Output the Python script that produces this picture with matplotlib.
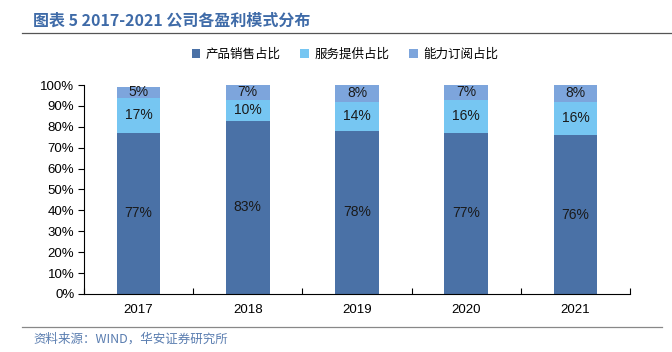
import matplotlib.pyplot as plt
import numpy as np

plt.rcParams['font.family'] = ['Liberation Sans', 'Noto Sans CJK SC', 'DejaVu Sans']

years = ['2017', '2018', '2019', '2020', '2021']
product = [77, 83, 78, 77, 76]
service = [17, 10, 14, 16, 16]
subscription = [5, 7, 8, 7, 8]
series_names = ['产品销售占比', '服务提供占比', '能力订阅占比']
colors = ['#4A71A6', '#76C6F2', '#7DA5DC']

fig = plt.figure(figsize=(6.72, 3.52), dpi=100)
ax = fig.add_axes([0.125, 0.165, 0.8125, 0.5935])

x = np.arange(len(years))
w = 0.4
bottom = np.zeros(len(years))
for vals, name, c in zip([product, service, subscription], series_names, colors):
    ax.bar(x, vals, w, bottom=bottom, color=c, label=name)
    for xi, b, v in zip(x, bottom, vals):
        ax.text(xi, b + v / 2, f'{v}%', ha='center', va='center', fontsize=10, color='#1a1a1a')
    bottom += np.array(vals)

ax.set_xlim(-0.5, len(years) - 0.5)
ax.set_ylim(0, 100)
ax.set_yticks(np.arange(0, 101, 10))
ax.set_yticklabels([f'{v}%' for v in range(0, 101, 10)], fontsize=9.5)
ax.set_xticks(x)
ax.set_xticklabels(years, fontsize=9.5)
ax.tick_params(axis='x', length=0, pad=7)
ax.tick_params(axis='y', length=4, width=0.8, pad=3)
ax.set_xticks(np.arange(-0.5, len(years)), minor=True)
ax.tick_params(axis='x', which='minor', direction='in', length=4, width=0.8)
for s in ['top', 'right']:
    ax.spines[s].set_visible(False)
ax.spines['left'].set_linewidth(0.8)
ax.spines['bottom'].set_linewidth(0.8)

fig.legend(loc='center', bbox_to_anchor=(0.513, 0.845), ncol=3, frameon=False,
           handlelength=0.7, handleheight=0.7, handletextpad=0.4, columnspacing=1.6,
           prop={'family': ['Noto Sans CJK SC'], 'size': 9})

fig.text(0.049, 0.942, '图表 5 2017-2021 公司各盈利模式分布', fontsize=11.5, fontweight='bold',
         color='#3F6BA8', va='center', family=['Noto Sans CJK SC', 'DejaVu Sans'])
fig.add_artist(plt.Line2D([0.033, 1.0], [0.906, 0.906], color='#555555', lw=0.9))
fig.add_artist(plt.Line2D([0.033, 0.985], [0.071, 0.071], color='#888888', lw=0.9))
fig.text(0.049, 0.036, '资料来源：WIND，华安证券研究所', fontsize=9, color='#5A7DB0', va='center',
         family=['Noto Sans CJK SC', 'DejaVu Sans'])

fig.savefig('out.png', dpi=100)
